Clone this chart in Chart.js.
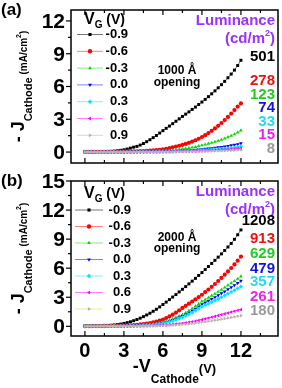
<!DOCTYPE html>
<html>
<head>
<meta charset="utf-8">
<script src="https://cdn.jsdelivr.net/npm/chart.js@4.4.1/dist/chart.umd.min.js"></script>
<style>
  html, body { margin: 0; padding: 0; background: #fff; }
  body { width: 282px; height: 388px; position: relative; overflow: hidden; }
  canvas { position: absolute; left: 0; }
  #chartA { top: 0; }
  #chartB { top: 167px; }
</style>
</head>
<body>
<canvas id="chartA" width="282" height="167"></canvas>
<canvas id="chartB" width="282" height="221"></canvas>
<script>
// ----- DATA -----
// -V_Cathode (V)
const vCathode = [0, 0.25, 0.5, 0.75, 1, 1.25, 1.5, 1.75, 2, 2.25, 2.5, 2.75, 3, 3.25, 3.5, 3.75,
  4, 4.25, 4.5, 4.75, 5, 5.25, 5.5, 5.75, 6, 6.25, 6.5, 6.75, 7, 7.25, 7.5, 7.75,
  8, 8.25, 8.5, 8.75, 9, 9.25, 9.5, 9.75, 10, 10.25, 10.5, 10.75, 11, 11.25, 11.5, 11.75, 12]

const gateVoltages = ['-0.9', '-0.6', '-0.3', '0.0', '0.3', '0.6', '0.9']
const luminanceA = ['501', '278', '123', '74', '33', '15', '8']
const luminanceB = ['1208', '913', '629', '479', '357', '261', '180']
const xTicks = [0, 3, 6, 9, 12]
const yTicksA = [0, 3, 6, 9, 12]
const yTicksB = [0, 3, 6, 9, 12, 15]

// (a) 1000 Å opening : -J_Cathode (mA/cm2)
const jA_m09 = [0.02, 0.02, 0.03, 0.03, 0.04, 0.04, 0.05, 0.06, 0.07, 0.09, 0.12, 0.16, 0.21, 0.28, 0.36, 0.45,
  0.52, 0.64, 0.78, 0.95, 1.13, 1.32, 1.52, 1.74, 1.96, 2.17, 2.38, 2.6, 2.82, 3.04, 3.26, 3.47,
  3.68, 3.9, 4.12, 4.35, 4.58, 4.82, 5.07, 5.33, 5.6, 5.88, 6.17, 6.47, 6.8, 7.14, 7.5, 7.92, 8.4]
const jA_m06 = [0.01, 0.01, 0.01, 0.01, 0.02, 0.02, 0.02, 0.02, 0.03, 0.03, 0.03, 0.04, 0.04, 0.05, 0.05, 0.06,
  0.07, 0.08, 0.09, 0.11, 0.13, 0.15, 0.18, 0.21, 0.25, 0.3, 0.36, 0.43, 0.5, 0.58, 0.66, 0.75,
  0.85, 0.96, 1.08, 1.22, 1.38, 1.55, 1.74, 1.94, 2.16, 2.4, 2.66, 2.93, 3.22, 3.52, 3.84, 4.16, 4.45]
const jA_m03 = [0.01, 0.01, 0.01, 0.01, 0.01, 0.01, 0.02, 0.02, 0.02, 0.02, 0.02, 0.03, 0.03, 0.03, 0.03, 0.04,
  0.04, 0.05, 0.05, 0.06, 0.07, 0.08, 0.09, 0.1, 0.11, 0.13, 0.15, 0.18, 0.21, 0.24, 0.28, 0.32,
  0.37, 0.42, 0.48, 0.55, 0.62, 0.69, 0.77, 0.85, 0.94, 1.03, 1.13, 1.24, 1.36, 1.49, 1.63, 1.8, 1.98]
const jA_00 = [0.01, 0.01, 0.01, 0.01, 0.01, 0.01, 0.01, 0.01, 0.01, 0.01, 0.01, 0.01, 0.01, 0.01, 0.02, 0.02,
  0.02, 0.02, 0.03, 0.03, 0.04, 0.04, 0.05, 0.05, 0.06, 0.07, 0.08, 0.09, 0.1, 0.11, 0.13, 0.14,
  0.16, 0.18, 0.21, 0.23, 0.26, 0.29, 0.32, 0.35, 0.39, 0.43, 0.47, 0.51, 0.56, 0.61, 0.66, 0.72, 0.8]
const jA_03 = [0, 0, 0, 0, 0, 0, 0.01, 0.01, 0.01, 0.01, 0.01, 0.01, 0.01, 0.01, 0.01, 0.01,
  0.01, 0.02, 0.02, 0.02, 0.03, 0.03, 0.03, 0.04, 0.04, 0.05, 0.05, 0.06, 0.07, 0.08, 0.09, 0.1,
  0.11, 0.12, 0.13, 0.15, 0.17, 0.19, 0.21, 0.23, 0.25, 0.27, 0.3, 0.32, 0.35, 0.38, 0.41, 0.45, 0.5]
const jA_06 = [0, 0, 0, 0, 0, 0, 0, 0, 0, 0, 0, 0, 0, 0, 0, 0,
  0.01, 0.01, 0.01, 0.02, 0.02, 0.02, 0.02, 0.03, 0.03, 0.03, 0.04, 0.04, 0.05, 0.05, 0.06, 0.07,
  0.08, 0.08, 0.09, 0.1, 0.12, 0.13, 0.14, 0.16, 0.17, 0.19, 0.21, 0.22, 0.24, 0.26, 0.28, 0.31, 0.35]
const jA_09 = [0, 0, 0, 0, 0, 0, 0, 0, 0, 0, 0, 0, 0, 0, 0, 0,
  0.01, 0.01, 0.01, 0.01, 0.01, 0.01, 0.01, 0.02, 0.02, 0.02, 0.02, 0.02, 0.03, 0.03, 0.03, 0.04,
  0.04, 0.05, 0.05, 0.06, 0.07, 0.07, 0.08, 0.09, 0.1, 0.11, 0.12, 0.13, 0.14, 0.15, 0.16, 0.18, 0.2]

// (b) 2000 Å opening : -J_Cathode (mA/cm2)
const jB_m09 = [0.03, 0.03, 0.04, 0.04, 0.05, 0.06, 0.07, 0.09, 0.11, 0.14, 0.18, 0.23, 0.3, 0.38, 0.47, 0.58,
  0.7, 0.84, 1.0, 1.17, 1.35, 1.55, 1.76, 2.0, 2.25, 2.5, 2.76, 3.02, 3.28, 3.55, 3.82, 4.1,
  4.38, 4.66, 4.95, 5.25, 5.55, 5.86, 6.17, 6.49, 6.81, 7.14, 7.48, 7.83, 8.19, 8.55, 8.98, 9.45, 9.95]
const jB_m06 = [0.02, 0.02, 0.02, 0.03, 0.03, 0.03, 0.04, 0.04, 0.05, 0.05, 0.06, 0.07, 0.08, 0.09, 0.1, 0.12,
  0.15, 0.19, 0.23, 0.28, 0.34, 0.41, 0.49, 0.59, 0.7, 0.85, 1.02, 1.2, 1.42, 1.65, 1.9, 2.12,
  2.34, 2.56, 2.79, 3.02, 3.26, 3.53, 3.8, 4.08, 4.37, 4.68, 5.0, 5.33, 5.67, 6.02, 6.39, 6.78, 7.2]
const jB_m03 = [0.01, 0.01, 0.02, 0.02, 0.02, 0.02, 0.03, 0.03, 0.03, 0.04, 0.04, 0.04, 0.05, 0.05, 0.06, 0.07,
  0.08, 0.1, 0.12, 0.15, 0.18, 0.22, 0.27, 0.33, 0.4, 0.5, 0.62, 0.76, 0.9, 1.05, 1.2, 1.4,
  1.62, 1.84, 2.08, 2.32, 2.57, 2.76, 2.96, 3.16, 3.36, 3.57, 3.78, 4.0, 4.24, 4.46, 4.68, 4.91, 5.15]
const jB_00 = [0.01, 0.01, 0.01, 0.02, 0.02, 0.02, 0.02, 0.03, 0.03, 0.03, 0.03, 0.04, 0.04, 0.05, 0.05, 0.06,
  0.07, 0.09, 0.11, 0.13, 0.16, 0.2, 0.24, 0.29, 0.35, 0.43, 0.53, 0.65, 0.78, 0.91, 1.05, 1.22,
  1.4, 1.6, 1.82, 2.05, 2.28, 2.45, 2.63, 2.81, 3.0, 3.2, 3.4, 3.6, 3.81, 4.02, 4.24, 4.46, 4.7]
const jB_03 = [0.01, 0.01, 0.01, 0.01, 0.02, 0.02, 0.02, 0.02, 0.03, 0.03, 0.03, 0.03, 0.04, 0.04, 0.05, 0.05,
  0.06, 0.08, 0.1, 0.12, 0.14, 0.17, 0.21, 0.25, 0.3, 0.37, 0.46, 0.56, 0.67, 0.8, 0.93, 1.08,
  1.24, 1.42, 1.62, 1.83, 2.04, 2.19, 2.34, 2.5, 2.66, 2.83, 3.0, 3.18, 3.36, 3.54, 3.72, 3.91, 4.1]
const jB_06 = [0, 0, 0, 0.01, 0.01, 0.01, 0.01, 0.01, 0.01, 0.01, 0.02, 0.02, 0.02, 0.02, 0.02, 0.03,
  0.03, 0.04, 0.04, 0.05, 0.06, 0.07, 0.08, 0.1, 0.12, 0.14, 0.17, 0.2, 0.23, 0.27, 0.31, 0.36,
  0.41, 0.47, 0.53, 0.61, 0.69, 0.77, 0.85, 0.93, 1.02, 1.11, 1.2, 1.29, 1.38, 1.47, 1.56, 1.64, 1.72]
const jB_09 = [0, 0, 0, 0, 0, 0.01, 0.01, 0.01, 0.01, 0.01, 0.01, 0.01, 0.01, 0.01, 0.02, 0.02,
  0.02, 0.02, 0.03, 0.03, 0.04, 0.05, 0.05, 0.06, 0.07, 0.08, 0.1, 0.12, 0.14, 0.16, 0.19, 0.22,
  0.25, 0.29, 0.33, 0.37, 0.42, 0.47, 0.52, 0.57, 0.62, 0.68, 0.74, 0.8, 0.86, 0.92, 0.98, 1.04, 1.1]

// ----- STYLE -----
const FONT = "'Liberation Sans', Arial, Helvetica, sans-serif"
const f = (size) => `bold ${size}px ${FONT}`
const PURPLE = '#9b30ff'

const markerColors = ['#000000', '#ff0000', '#00dd00', '#0000ff', '#00e5ff', '#ff00ff', '#b4b4b4']
const labelColors = ['#000000', '#ee1111', '#22cc22', '#1111dd', '#22ddee', '#ee22ee', '#9a9a9a']
const lineColorsA = ['#777777', '#ff8080', '#80ee80', '#8080ff', '#80f0ff', '#ff80ff', '#d8d8d8']
const lineColorsB = ['#777777', '#ff8080', '#80ee80', '#8080ff', '#80f0ff', '#ff80ff', '#eeee80']
const pointStyles = ['rect', 'circle', 'triangle', 'triangle', 'rectRot', 'triangle', 'triangle']
const pointRotations = [0, 0, 0, 180, 0, -90, 90]

// ----- HELPERS -----
function richWidth(ctx, parts) {
  return parts.reduce((w, [text, font]) => {
    ctx.font = font
    return w + ctx.measureText(text).width
  }, 0)
}

function drawRich(ctx, parts, x, y) {
  parts.forEach(([text, font, dy]) => {
    ctx.font = font
    ctx.fillText(text, x, y + dy)
    x += ctx.measureText(text).width
  })
}

// frame, ticks + tick labels, titles, legend and annotations
const panelDecor = {
  id: 'panelDecor',
  afterDraw(chart, args, cfg) {
    const { ctx, chartArea: a, scales } = chart
    const xs = scales.x
    const ys = scales.y
    ctx.save()
    ctx.strokeStyle = '#000'
    ctx.fillStyle = '#000'
    ctx.textAlign = 'left'
    ctx.textBaseline = 'alphabetic'

    const line = (x1, y1, x2, y2) => {
      ctx.beginPath()
      ctx.moveTo(x1, y1)
      ctx.lineTo(x2, y2)
      ctx.stroke()
    }

    // ticks: inward on x (top + bottom), outward on y
    ctx.lineWidth = 1.2
    xTicks.forEach((v) => {
      ;[[v, 5], [v + 1.5, 3]].forEach(([t, len]) => {
        if (t > xs.max) return
        const px = xs.getPixelForValue(t)
        line(px, a.bottom, px, a.bottom - len)
        line(px, a.top, px, a.top + len)
      })
    })
    cfg.yTicks.forEach((v) => {
      ;[[v, 5], [v + 1.5, 3]].forEach(([t, len]) => {
        if (t > ys.max) return
        const py = ys.getPixelForValue(t)
        line(a.left, py, a.left - len, py)
      })
    })

    // tick labels
    ctx.font = f(21)
    ctx.textAlign = 'right'
    ctx.textBaseline = 'middle'
    cfg.yTicks.forEach((v) => ctx.fillText(String(v), a.left - 6, ys.getPixelForValue(v) + 1))
    if (cfg.xTitle) {
      ctx.font = f(20)
      ctx.textAlign = 'center'
      xTicks.forEach((v) => ctx.fillText(String(v), xs.getPixelForValue(v), a.bottom + 15))
    }
    ctx.textAlign = 'left'
    ctx.textBaseline = 'alphabetic'

    // frame
    ctx.lineWidth = 1.5
    ctx.strokeRect(a.left, a.top, a.right - a.left, a.bottom - a.top)

    // panel letter
    ctx.font = f(17)
    ctx.fillText(cfg.letter, 1, a.top + 5)

    // y title, rotated
    const yParts = [
      ['- J', f(18), 0],
      ['Cathode', f(11), 8],
      [' (mA/cm', f(10), 3],
      ['2', f(7), -3],
      [')', f(10), 3],
    ]
    ctx.save()
    ctx.translate(24, (a.top + a.bottom) / 2)
    ctx.rotate(-Math.PI / 2)
    drawRich(ctx, yParts, -richWidth(ctx, yParts) / 2, 0)
    ctx.restore()

    // legend header V_G (V)
    drawRich(ctx, [['V', f(16), 0], ['G', f(10), 4], [' (V)', f(14), 0]], 84, a.top + cfg.headerDy)

    // legend rows, drawn with each dataset's own style
    chart.data.datasets.forEach((ds, i) => {
      const y = a.top + cfg.legendDy + i * cfg.legendStep
      ctx.strokeStyle = ds.borderColor
      ctx.lineWidth = 1
      line(cfg.legendX0, y, cfg.legendX1, y)
      ctx.fillStyle = ds.pointBackgroundColor
      Chart.helpers.drawPoint(ctx, {
        pointStyle: ds.pointStyle,
        rotation: ds.rotation,
        radius: 2.2,
        borderWidth: 0,
      }, (cfg.legendX0 + cfg.legendX1) / 2, y)
      ctx.fillStyle = '#000'
      ctx.font = f(13)
      ctx.textAlign = 'right'
      ctx.textBaseline = 'middle'
      ctx.fillText(ds.label, cfg.legendTextX, y)
      ctx.textAlign = 'left'
      ctx.textBaseline = 'alphabetic'
    })

    // luminance title and values
    ctx.fillStyle = PURPLE
    ctx.font = f(15)
    ctx.textAlign = 'right'
    ctx.fillText('Luminance', 275, a.top + 15)
    ctx.textAlign = 'left'
    const unit = [['(cd/m', f(15), 0], ['2', f(9), -7], [')', f(15), 0]]
    drawRich(ctx, unit, 275 - richWidth(ctx, unit), a.top + 33)

    ctx.textAlign = 'right'
    ctx.textBaseline = 'middle'
    ctx.font = f(15)
    cfg.luminance.forEach((txt, i) => {
      ctx.fillStyle = labelColors[i]
      ctx.fillText(txt, 275, a.top + cfg.lumDy[i])
    })

    // opening annotation
    ctx.fillStyle = '#000'
    ctx.textAlign = 'center'
    ctx.font = f(12)
    ctx.fillText(cfg.opening, 177, a.top + cfg.openDy[0])
    ctx.fillText('opening', 177, a.top + cfg.openDy[1])

    // x title
    if (cfg.xTitle) {
      ctx.textAlign = 'left'
      ctx.textBaseline = 'alphabetic'
      const xParts = [['-V', f(18), 0], ['Cathode', f(12), 11], ['(V)', f(13), 1]]
      const cx = (a.left + a.right) / 2
      drawRich(ctx, xParts, cx - richWidth(ctx, xParts) / 2, a.bottom + 36)
    }
    ctx.restore()
  },
}

// ----- CHARTS -----
function makePanel(canvasId, series, lineColors, cfg) {
  const datasets = series.map((ys, i) => ({
    label: gateVoltages[i],
    data: vCathode.map((x, k) => ({ x, y: ys[k] })),
    borderColor: lineColors[i],
    borderWidth: 1,
    backgroundColor: markerColors[i],
    pointBackgroundColor: markerColors[i],
    pointBorderColor: markerColors[i],
    pointBorderWidth: 0,
    pointStyle: pointStyles[i],
    rotation: pointRotations[i],
    pointRadius: 2.1,
    tension: 0,
    order: series.length - 1 - i, // 0.9 V series on top
  }))

  return new Chart(document.getElementById(canvasId), {
    type: 'line',
    data: { datasets },
    plugins: [panelDecor],
    options: {
      responsive: false,
      animation: false,
      events: [],
      devicePixelRatio: 1,
      // the plot box is fixed by padding; axes are drawn by panelDecor
      layout: { padding: { top: cfg.padTop, right: 3, bottom: cfg.padBottom, left: 71 } },
      plugins: { legend: { display: false }, tooltip: { enabled: false }, panelDecor: cfg },
      scales: {
        x: { type: 'linear', display: false, min: -1.07, max: 14.85 },
        y: { type: 'linear', display: false, min: cfg.yMin, max: cfg.yMax },
      },
    },
  })
}

makePanel('chartA', [jA_m09, jA_m06, jA_m03, jA_00, jA_03, jA_06, jA_09], lineColorsA, {
  letter: '(a)',
  padTop: 10,
  padBottom: 2,
  xTitle: false,
  yMin: -1,
  yMax: 13,
  yTicks: yTicksA,
  headerDy: 14,
  legendDy: 24.5,
  legendStep: 16.8,
  legendX0: 77,
  legendX1: 103,
  legendTextX: 128,
  luminance: luminanceA,
  lumDy: [47, 71, 85, 98, 112, 125, 139],
  opening: '1000 Å',
  openDy: [61, 73],
})

makePanel('chartB', [jB_m09, jB_m06, jB_m03, jB_00, jB_03, jB_06, jB_09], lineColorsB, {
  letter: '(b)',
  padTop: 14,
  padBottom: 52,
  xTitle: true,
  yMin: -1,
  yMax: 15,
  yTicks: yTicksB,
  headerDy: 17,
  legendDy: 29,
  legendStep: 16.5,
  legendX0: 75,
  legendX1: 103,
  legendTextX: 131,
  luminance: luminanceB,
  lumDy: [40, 58, 73, 88, 101, 116, 130],
  opening: '2000 Å',
  openDy: [56.5, 68],
})
</script>
</body>
</html>
